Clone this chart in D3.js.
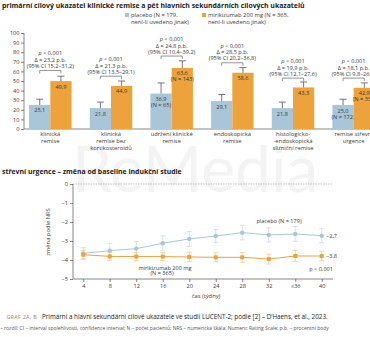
<!DOCTYPE html>
<html>
<head>
<meta charset="utf-8">
<script src="https://cdn.jsdelivr.net/npm/d3@7"></script>
<style>
body{margin:0;background:#fff;}
svg{display:block;font-family:"Open Sans",sans-serif;}
</style>
</head>
<body>
<div id="chart"></div>
<script>
// bar chart data (percent of patients)
var categories=[["klinická","remise"],["klinická","remise bez","kortikosteroidů"],["udržení klinické","remise"],
	["endoskopická","remise"],["histologicko-","-endoskopická","slizniční remise"],["remise střevní","urgence"]];
var placebo=[25.1,21.8,36.9,29.1,21.8,25.0];
var miri=[49.9,44.9,63.6,58.6,43.3,42.9];
var placeboHi=[31,28,48,36,28,31]; // upper end of error bar
var miriHi=[55,50,71,64,49,48];
var placeboN=["","","(N = 65)","","","(N = 172)"];
var miriN=["","","(N = 143)","","","(N = 336)"];
var deltaTxt=["Δ = 23,2 p.b.","Δ = 21,3 p.b.","Δ = 24,8 p.b.","Δ = 28,5 p.b.","Δ = 19,9 p.b.","Δ = 18,1 p.b."];
var ciTxt=["(95% CI 15,2–31,2)","(95% CI 13,5–29,1)","(95% CI 10,4–39,2)","(95% CI 20,2–36,8)","(95% CI 12,1–27,6)","(95% CI 9,8–26,4)"];
var bracketLvl=[61,55,76,69,53,53];
var barTicks=[0,10,20,30,40,50,60,70,80,90,100];

// line chart data (change in NRS)
var weeks=[4,8,12,16,20,24,28,32,36,40];
var weekLabels=["4","8","12","16","20","24","28","32","≤36","40"];
var placeboNRS=[-3.65,-3.51,-3.40,-3.12,-2.89,-2.74,-2.56,-2.68,-2.63,-2.72];
var placeboNRSErr=[0.30,0.37,0.37,0.39,0.39,0.35,0.38,0.37,0.39,0.37];
var miriNRS=[-3.72,-3.81,-3.82,-3.82,-3.84,-3.86,-3.86,-3.95,-3.79,-3.79];
var miriNRSErr=[0.23,0.21,0.22,0.21,0.25,0.24,0.26,0.26,0.30,0.25];
var nrsTicks=[0,-1,-2,-3,-4,-5];

var blue="#a9c6d8", orange="#eda23c", txt="#3a3a3a", axisCol="#555";
var svg=d3.select("#chart").append("svg").attr("width",370).attr("height",337);

// watermark
svg.append("text").attr("x",195).attr("y",192).attr("text-anchor","middle")
	.attr("font-size",64).attr("fill","#f3f3f3").attr("font-family","Lato, sans-serif").text("ReMedia");

// ---- top chart ----
svg.append("text").attr("x",2).attr("y",8).attr("font-size",6.9).attr("font-weight","bold").attr("fill","#222")
	.text("primární cílový ukazatel klinické remise a pět hlavních sekundárních cílových ukazatelů");

var leg=svg.append("g").attr("font-size",5.8).attr("fill",txt);
leg.append("rect").attr("x",125).attr("y",13).attr("width",4).attr("height",4).attr("fill",blue);
leg.append("text").attr("x",131).attr("y",17).text("placebo (N = 179,");
leg.append("text").attr("x",131).attr("y",23.5).text("není-li uvedeno jinak)");
leg.append("rect").attr("x",202).attr("y",13).attr("width",4).attr("height",4).attr("fill",orange);
leg.append("text").attr("x",208).attr("y",17).text("mirikizumab 200 mg (N = 365,");
leg.append("text").attr("x",208).attr("y",23.5).text("není-li uvedeno jinak)");

var x0=d3.scaleBand().domain(d3.range(categories.length)).range([20,384]).paddingInner(0.3).paddingOuter(0.15);
var x1=d3.scaleBand().domain([0,1]).range([0,x0.bandwidth()]);
var y=d3.scaleLinear().domain([0,100]).range([129,33]);

var yAx=svg.append("g").attr("transform","translate(24,0)")
	.call(d3.axisLeft(y).tickValues(barTicks).tickSize(3).tickPadding(1.5));
yAx.selectAll("text").attr("font-size",5.6).attr("fill",txt).attr("font-family","Open Sans");
yAx.selectAll("line,path").attr("stroke",axisCol).attr("stroke-width",0.7);
yAx.select(".domain").attr("d","M0,"+y(100)+"V"+y(0));
svg.append("line").attr("x1",24).attr("x2",370).attr("y1",y(0)).attr("y2",y(0)).attr("stroke",axisCol).attr("stroke-width",0.7);

var grp=svg.selectAll("g.grp").data(categories).enter().append("g").attr("class","grp")
	.attr("transform",function(d,i){return "translate("+x0(i)+",0)";});

function bars(vals,hi,ns,k,col){
	var bw=x1.bandwidth(), cx=x1(k)+bw/2;
	grp.append("rect").attr("x",x1(k)).attr("width",bw)
		.attr("y",function(d,i){return y(vals[i]);}).attr("height",function(d,i){return y(0)-y(vals[i]);})
		.attr("fill",col);
	grp.append("path").attr("fill","none").attr("stroke","#666").attr("stroke-width",0.9)
		.attr("d",function(d,i){return "M"+cx+","+y(vals[i])+"V"+y(hi[i])+"M"+(cx-3.5)+","+y(hi[i])+"H"+(cx+3.5);});
	grp.append("text").attr("x",cx).attr("y",function(d,i){return y(vals[i])+7.5;})
		.attr("text-anchor","middle").attr("font-size",5.6).attr("fill",txt)
		.text(function(d,i){return vals[i].toFixed(1).replace(".",",");});
	grp.append("text").attr("x",cx).attr("y",function(d,i){return y(vals[i])+13.5;})
		.attr("text-anchor","middle").attr("font-size",5.6).attr("fill",txt)
		.text(function(d,i){return ns[i];});
}
bars(placebo,placeboHi,placeboN,0,blue);
bars(miri,miriHi,miriN,1,orange);

// brackets with p values
var bL=x1(0)+x1.bandwidth()/2, bR=x1(1)+x1.bandwidth()/2, mid=x0.bandwidth()/2;
grp.append("path").attr("fill","none").attr("stroke","#666").attr("stroke-width",0.7)
	.attr("d",function(d,i){var b=y(bracketLvl[i]);return "M"+bL+","+(b+3)+"V"+b+"H"+bR+"V"+(b+3);});
var ann=grp.append("text").attr("text-anchor","middle").attr("font-size",5.6).attr("fill",txt);
ann.append("tspan").attr("x",mid).attr("y",function(d,i){return y(bracketLvl[i])-15;})
	.html("<tspan font-style='italic'>p</tspan> &lt; 0,001");
ann.append("tspan").attr("x",mid).attr("y",function(d,i){return y(bracketLvl[i])-8.5;}).text(function(d,i){return deltaTxt[i];});
ann.append("tspan").attr("x",mid).attr("y",function(d,i){return y(bracketLvl[i])-2.5;}).text(function(d,i){return ciTxt[i];});

grp.append("text").attr("text-anchor","middle").attr("font-size",5.8).attr("fill",txt)
	.selectAll("tspan").data(function(d){return d;}).enter().append("tspan")
	.attr("x",mid).attr("y",function(d,j){return 136+j*6.8;}).text(function(d){return d;});

// ---- bottom chart ----
svg.append("text").attr("x",2).attr("y",174).attr("font-size",6.9).attr("font-weight","bold").attr("fill","#222")
	.text("střevní urgence – změna od baseline indukční studie");

var xw=d3.scaleLinear().domain([2.45,41.7]).range([73,333]);
var yn=d3.scaleLinear().domain([-5,0]).range([279,184]);

svg.append("line").attr("x1",73).attr("x2",333).attr("y1",yn(0)).attr("y2",yn(0))
	.attr("stroke","#999").attr("stroke-width",0.6).attr("stroke-dasharray","1.5,1");
var ynAx=svg.append("g").attr("transform","translate(73,0)")
	.call(d3.axisLeft(yn).tickValues(nrsTicks).tickSize(3).tickPadding(2).tickFormat(function(d){return d===0?"0":"−"+(-d);}));
var xwAx=svg.append("g").attr("transform","translate(0,279)")
	.call(d3.axisBottom(xw).tickValues(weeks).tickSize(3).tickPadding(2).tickFormat(function(d,i){return weekLabels[i];}));
[ynAx,xwAx].forEach(function(a){
	a.selectAll("text").attr("font-size",5.6).attr("fill",txt).attr("font-family","Open Sans");
	a.selectAll("line,path").attr("stroke",axisCol).attr("stroke-width",0.7);
});
xwAx.select(".domain").attr("d","M73,0H333");
ynAx.select(".domain").attr("d","M0,"+yn(0)+"V"+yn(-5));

svg.append("text").attr("transform","translate(50,232) rotate(-90)").attr("text-anchor","middle")
	.attr("font-size",5.8).attr("fill",txt).text("změna podle NRS");
svg.append("text").attr("x",206).attr("y",298).attr("text-anchor","middle")
	.attr("font-size",5.8).attr("fill",txt).text("čas (týdny)");

function series(vals,err,col,errCol,square){
	var g=svg.append("g");
	g.selectAll("path.err").data(weeks).enter().append("path").attr("fill","none")
		.attr("stroke",errCol).attr("stroke-width",0.8)
		.attr("d",function(w,i){var cx=xw(w),a=yn(vals[i]+err[i]),b=yn(vals[i]-err[i]);
			return "M"+cx+","+a+"V"+b+"M"+(cx-2.5)+","+a+"H"+(cx+2.5)+"M"+(cx-2.5)+","+b+"H"+(cx+2.5);});
	g.append("path").datum(weeks).attr("fill","none").attr("stroke",col).attr("stroke-width",1)
		.attr("d",d3.line().x(function(w){return xw(w);}).y(function(w,i){return yn(vals[i]);}));
	if(square){
		g.selectAll("rect").data(weeks).enter().append("rect").attr("fill",col)
			.attr("x",function(w){return xw(w)-2;}).attr("y",function(w,i){return yn(vals[i])-2;})
			.attr("width",4).attr("height",4);
	}else{
		g.selectAll("circle").data(weeks).enter().append("circle").attr("fill",col).attr("r",2.2)
			.attr("cx",function(w){return xw(w);}).attr("cy",function(w,i){return yn(vals[i]);});
	}
}
series(placeboNRS,placeboNRSErr,blue,"#c9dbe6",false);
series(miriNRS,miriNRSErr,orange,"#f3c88a",true);

var lt=svg.append("g").attr("font-size",5.6).attr("fill",txt);
lt.append("text").attr("x",326).attr("y",yn(placeboNRS[9])+2).text("−2,7");
lt.append("text").attr("x",326).attr("y",yn(miriNRS[9])+2).text("−3,8");
lt.append("text").attr("x",279).attr("y",223).attr("text-anchor","middle").text("placebo (N = 179)");
lt.append("text").attr("x",165).attr("y",269.5).attr("text-anchor","middle").text("mirikizumab 200 mg");
lt.append("text").attr("x",162).attr("y",275).attr("text-anchor","middle").text("(N = 365)");
lt.append("text").attr("x",333).attr("y",271).attr("text-anchor","end").text("p < 0,001");

// caption
svg.append("text").attr("x",37).attr("y",318.5).attr("text-anchor","end").attr("font-size",5.4).attr("fill","#888")
	.attr("letter-spacing",0.3).text("GRAF 2A, B");
svg.append("text").attr("x",42).attr("y",318.5).attr("font-size",6.3).attr("fill","#222")
	.text("Primární a hlavní sekundární cílové ukazatele ve studii LUCENT-2; podle [2] – D’Haens, et al., 2023.");
svg.append("text").attr("x",-4).attr("y",329.5).attr("font-size",5).attr("fill","#555")
	.text("Δ – rozdíl; CI – interval spolehlivosti, confidence interval; N – počet pacientů; NRS – numerická škála, Numeric Rating Scale; p.b. – procentní body");
</script>
</body>
</html>
